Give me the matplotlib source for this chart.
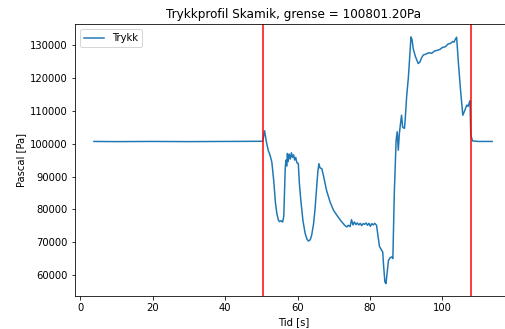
import matplotlib
matplotlib.use("Agg")
import matplotlib.pyplot as plt

# tid [s] og trykk [Pa], lest av figuren
tid = [3.8, 10, 20, 30, 40, 50.4, 50.9, 51.4, 51.9, 52.4,
       52.9, 53.4, 53.9, 54.3, 54.7, 55.0, 55.4, 55.9, 56.2, 56.6,
       56.8, 57.0, 57.2, 57.4, 57.7, 58.0, 58.3, 58.6, 58.9, 59.2,
       59.5, 59.8, 60.2, 60.5, 60.9, 61.5, 62.1, 62.6, 63.0, 63.5,
       63.9, 64.4, 64.8, 65.3, 65.6, 65.9, 66.2, 66.7, 67.3, 68.0,
       69.0, 69.9, 71.0, 72.0, 73.0, 73.6, 74.0, 74.5, 74.9, 75.3,
       75.7, 76.1, 76.5, 76.9, 77.3, 77.7, 78.1, 78.5, 78.9, 79.3,
       79.7, 80.1, 80.5, 80.9, 81.3, 81.8, 82.2, 82.6, 83.0, 83.5,
       83.7, 84.1, 84.4, 84.6, 85.1, 85.6, 86.0, 86.3, 86.7, 87.2,
       87.5, 87.8, 88.1, 88.4, 88.7, 89.0, 89.5, 89.7, 90.1, 90.6,
       91.0, 91.3, 91.6, 91.9, 92.5, 93.3, 93.8, 94.2, 94.7, 95.5,
       96.3, 97.0, 97.8, 98.5, 99.3, 100.0, 100.8, 101.5, 102.2, 102.8,
       103.2, 103.5, 103.9, 104.4, 105.0, 105.6, 106.2, 106.7, 107.1, 107.4,
       107.6, 107.8, 108.3, 110, 113.7]
trykk = [100650, 100600, 100650, 100600, 100650, 100700, 103900, 100500, 98000, 96500,
         94400, 89000, 82000, 78700, 76800, 76300, 76600, 76200, 78000, 92500,
         95000, 93200, 97000, 94500, 96800, 95300, 97200, 95800, 96600, 95000,
         95800, 94200, 94000, 88000, 82800, 76500, 72700, 71000, 70400, 70800,
         72200, 75500, 79800, 87000, 91500, 93900, 92600, 92400, 89500, 85800,
         82200, 79800, 78000, 76500, 75200, 74700, 75200, 74800, 76900, 75300,
         76200, 75400, 75900, 75300, 75800, 75100, 75700, 75500, 75900, 75200,
         75800, 74900, 75700, 75300, 75800, 75200, 72000, 68800, 68000, 67100,
         63600, 58000, 57500, 59500, 64600, 65400, 65600, 65100, 85000, 101000,
         103600, 98000, 103100, 106000, 108600, 105000, 104600, 107100, 114200, 120300,
         127500, 132400, 131500, 128900, 126500, 124300, 124800, 126000, 126900, 127200,
         127600, 127400, 128100, 128300, 128600, 129200, 129400, 130200, 130400, 131000,
         130800, 131600, 132300, 124300, 116000, 108600, 110200, 111700, 111300, 112500,
         113000, 102600, 100800, 100650, 100650]

grense = 100801.20
kryss = [50.5, 107.9]

fig = plt.figure(figsize=(505 / 72, 329 / 72), dpi=72)
ax = fig.add_axes([0.148, 0.100, 1.014 - 0.148, 0.926 - 0.100])

ax.plot(tid, trykk, color='#1f77b4', label='Trykk')
for t in kryss:
    ax.axvline(t, color='red')

ax.set_title(f'Trykkprofil Skamik, grense = {grense:.2f}Pa')
ax.set_xlabel('Tid [s]')
ax.set_ylabel('Pascal [Pa]')
ax.set_xlim(-1.49, 119.2)
ax.set_ylim(53700, 136200)
ax.legend(loc='upper left')

fig.savefig('out.png', dpi=72)
